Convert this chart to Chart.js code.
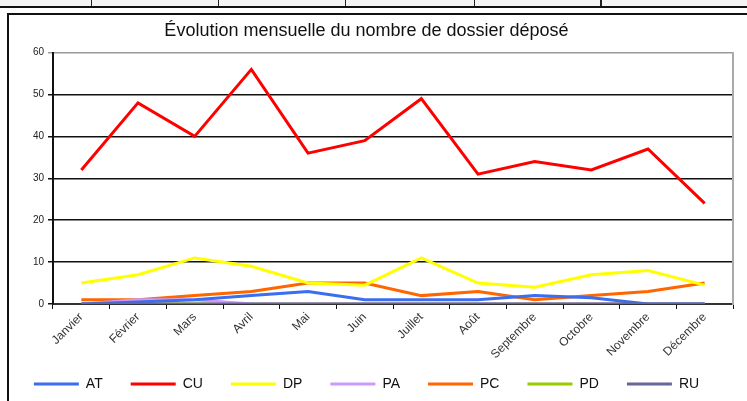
<!DOCTYPE html>
<html>
<head>
<meta charset="utf-8">
<script src="https://cdn.jsdelivr.net/npm/chart.js@4/dist/chart.umd.min.js"></script>
<style>
  html, body { margin: 0; padding: 0; background: #fff; }
  body { width: 747px; height: 401px; position: relative; overflow: hidden; font-family: "Liberation Sans", Arial, sans-serif; }
  .strip { position: absolute; left: 0; top: 0; width: 747px; height: 6px; background: #f4f4f4; border-bottom: 2px solid #111; }
  .strip i { position: absolute; top: 0; width: 1px; height: 6px; background: #222; }
  .frame { position: absolute; left: 7px; top: 13px; width: 760px; height: 400px; border-left: 2px solid #111; border-top: 2px solid #111; }
  #wrap { position: absolute; left: 0; top: 0; width: 747px; height: 401px; }
</style>
</head>
<body>
<div class="strip"><i style="left:91px"></i><i style="left:218px"></i><i style="left:345px"></i><i style="left:474px"></i><i style="left:600px;width:2px"></i></div>
<div class="frame"></div>
<div id="wrap"><canvas id="chart" width="747" height="401"></canvas></div>
<script>
// ============ DATA ============
const months = ['Janvier', 'Février', 'Mars', 'Avril', 'Mai', 'Juin', 'Juillet', 'Août', 'Septembre', 'Octobre', 'Novembre', 'Décembre'];
const seriesNames = ['AT', 'CU', 'DP', 'PA', 'PC', 'PD', 'RU'];
const seriesColors = ['#3a6df0', '#ff0000', '#ffff00', '#cc99ff', '#ff6600', '#99cc00', '#666699'];
const valuesAT = [0, 0.5, 1, 2, 3, 1, 1, 1, 2, 1.5, 0, 0];
const valuesCU = [32, 48, 40, 56, 36, 39, 49, 31, 34, 32, 37, 24];
const valuesDP = [5, 7, 11, 9, 5, 4.5, 11, 5, 4, 7, 8, 4.5];
const valuesPA = [0, 1, 1, 0, 0, 0, 0, 0, 0, 0, 0, 0];
const valuesPC = [1, 1, 2, 3, 5, 5, 2, 3, 1, 2, 3, 5];
const valuesPD = [0, 0, 0, 0, 0, 0, 0, 0, 0, 0, 0, 0];
const valuesRU = [0, 0, 0, 0, 0, 0, 0, 0, 0, 0, 0, 0];
const yTicks = [0, 10, 20, 30, 40, 50, 60];

const allValues = [valuesAT, valuesCU, valuesDP, valuesPA, valuesPC, valuesPD, valuesRU];

// RU drawn on top so the slate line sits on the axis
const datasets = seriesNames.map((name, i) => ({
    label: name,
    data: allValues[i],
    borderColor: seriesColors[i],
    backgroundColor: seriesColors[i],
    borderWidth: 3,
    pointRadius: 0,
    tension: 0,
    fill: false,
    order: name === 'RU' ? 0 : (name === 'CU' ? 1 : 2)
}));

// ============ CHART ============
new Chart(document.getElementById('chart').getContext('2d'), {
    type: 'line',
    data: { labels: months, datasets: datasets },
    options: {
        responsive: false,
        animation: false,
        layout: { padding: { left: 0, right: 14, top: 0, bottom: 0 } },
        plugins: {
            title: {
                display: true,
                text: 'Évolution mensuelle du nombre de dossier déposé',
                color: '#111',
                font: { family: '"Liberation Sans", sans-serif', size: 18, weight: 'normal' },
                padding: { top: 20, bottom: 11 }
            },
            legend: {
                position: 'bottom',
                labels: {
                    usePointStyle: true,
                    pointStyle: 'line',
                    pointStyleWidth: 45,
                    color: '#111',
                    padding: 28,
                    font: { family: '"Liberation Sans", sans-serif', size: 14 },
                    sort: (a, b) => a.datasetIndex - b.datasetIndex
                }
            },
            tooltip: { enabled: false }
        },
        scales: {
            x: {
                offset: true,
                grid: { display: true, drawOnChartArea: false, drawTicks: true, tickLength: 5, color: '#111', offset: true },
                border: { color: '#333', width: 2 },
                ticks: {
                    minRotation: 45, maxRotation: 45, autoSkip: false,
                    color: '#333', padding: 1,
                    font: { family: '"Liberation Sans", sans-serif', size: 12 }
                },
                afterFit: scale => {
                    scale.height = 45;
                    // let the long rotated month names run past the axis box
                    scale._computeLabelArea = () => undefined;
                }
            },
            y: {
                min: 0, max: 60,
                afterBuildTicks: scale => { scale.ticks = yTicks.map(v => ({ value: v })); },
                grid: {
                    color: ctx => ctx.tick && ctx.tick.value === 60 ? '#9a9a9a' : '#111',
                    lineWidth: 1.5,
                    tickLength: 5,
                    drawTicks: true
                },
                border: { color: '#111', width: 2 },
                ticks: { color: '#222', padding: 4, font: { family: '"Liberation Sans", sans-serif', size: 10 } },
                afterFit: scale => { scale.width = 53; }
            },
            y2: {
                position: 'right',
                min: 0, max: 60,
                grid: { display: false },
                ticks: { display: false },
                border: { color: '#aaa', width: 2 },
                afterFit: scale => { scale.width = 0; }
            }
        }
    }
});
</script>
</body>
</html>
